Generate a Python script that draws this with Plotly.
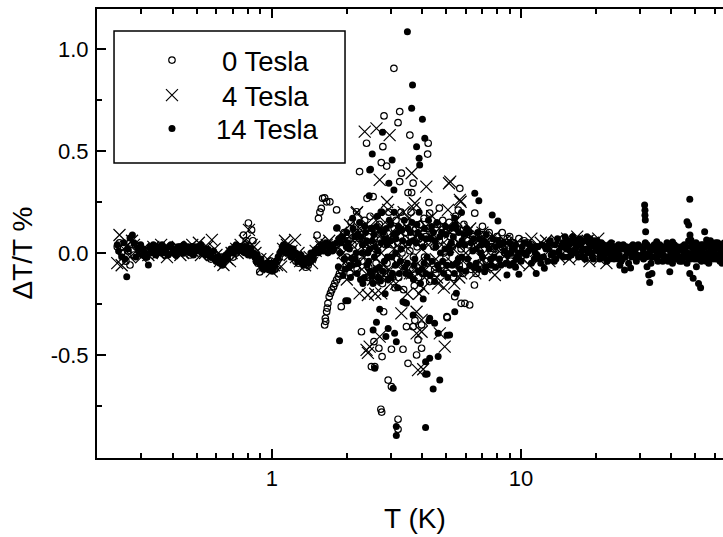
import plotly.graph_objects as go

# ---------------- data: (T [K], dT/T [%]) ----------------
zero_band = [
    (0.24, 0.03), (0.25, 0.0), (0.26, -0.04), (0.27, 0.05), (0.27, -0.059), (0.28, -0.01), (0.29, 0.03),
    (0.30, 0.01), (0.315, -0.02), (0.33, 0.02), (0.345, 0.0), (0.36, 0.03), (0.375, -0.01),
    (0.39, 0.02), (0.41, 0.0), (0.43, 0.03), (0.45, 0.01), (0.47, -0.01), (0.49, 0.02),
    (0.51, 0.0), (0.53, 0.02), (0.555, -0.02), (0.58, 0.0), (0.605, -0.04), (0.63, -0.03),
    (0.66, -0.01), (0.69, 0.01), (0.72, 0.0), (0.75, 0.03), (0.77, 0.088), (0.79, 0.06),
    (0.806, 0.147), (0.83, 0.113), (0.84, 0.06), (0.86, -0.02), (0.88, -0.05), (0.895, -0.093),
    (0.92, -0.07), (0.95, -0.06), (0.99, -0.04), (1.03, -0.08), (1.07, -0.02), (1.12, 0.03),
    (1.17, 0.0), (1.22, -0.02), (1.28, -0.05), (1.34, -0.03), (1.40, -0.06), (1.46, -0.02),
    (1.52, 0.088), (1.55, 0.03),
    (0.245, 0.05), (0.265, 0.01), (0.285, 0.04), (0.31, 0.01), (0.34, 0.03), (0.37, 0.01),
    (0.40, 0.03), (0.44, 0.0), (0.48, 0.03), (0.52, 0.01), (0.57, -0.03), (0.62, -0.02),
    (0.67, 0.0), (0.70, -0.02), (0.74, 0.02), (0.78, 0.04), (0.87, -0.04), (0.91, -0.06),
    (0.97, -0.08), (1.01, -0.06), (1.05, -0.04), (1.10, 0.0), (1.19, 0.02), (1.25, -0.04),
    (1.31, -0.02), (1.37, -0.07), (1.43, -0.04), (1.49, 0.0),
]
zero_arc = [
    (1.54, 0.17), (1.56, 0.2), (1.58, 0.219), (1.60, 0.268), (1.63, 0.27), (1.66, 0.251),
    (1.71, 0.251), (1.82, 0.211), (1.63, -0.353), (1.64, -0.32), (1.645, -0.335), (1.66, -0.288),
    (1.67, -0.27), (1.68, -0.247), (1.70, -0.214), (1.72, -0.197), (1.74, -0.181), (1.77, -0.165),
    (1.79, -0.149), (1.82, -0.132), (1.85, -0.116), (1.87, -0.1), (1.90, -0.083), (1.99, -0.059),
    (2.05, -0.04), (1.90, -0.263),
]
zero_scatter = [
    (3.09, 0.905), (3.26, 0.693), (2.82, 0.672), (3.21, 0.639), (3.58, 0.578), (2.79, 0.521),
    (2.40, 0.538), (4.24, 0.538), (4.22, 0.485), (2.75, 0.443), (2.89, 0.426), (2.25, 0.399),
    (3.31, 0.391), (3.26, 0.35), (3.69, 0.342), (3.52, 0.296), (3.64, 0.296), (5.68, 0.317),
    (2.41, 0.268), (2.55, 0.276), (2.19, 0.202), (4.27, 0.247), (4.30, 0.195),
    (2.69, -0.467), (2.57, -0.435), (2.29, -0.386), (3.02, -0.472), (2.77, -0.508),
    (3.36, -0.472), (3.52, -0.541), (3.99, -0.467), (2.51, -0.557), (2.93, -0.623),
    (3.02, -0.655), (2.74, -0.766), (2.76, -0.78), (3.21, -0.815), (3.69, -0.361),
    (5.95, -0.247), (5.04, -0.312), (2.81, -0.288), (3.47, -0.361), (3.86, -0.426),
    (5.06, -0.317), (5.42, -0.214), (3.75, -0.33), (3.99, -0.353), (3.81, -0.5),
    (2.59, -0.557), (3.21, -0.864), (6.22, -0.255), (5.75, -0.247), (6.5, -0.157),
    (1.95, 0.1), (2.0, -0.02), (2.08, 0.15), (2.12, 0.04), (2.2, -0.08), (2.28, 0.12),
    (2.33, 0.0), (2.42, -0.12), (2.48, 0.18), (2.58, 0.07), (2.62, -0.05), (2.7, 0.14),
    (2.78, -0.15), (2.86, 0.04), (2.95, 0.2), (3.0, -0.1), (3.1, 0.12), (3.18, -0.03),
    (3.28, 0.08), (3.38, -0.18), (3.48, 0.15), (3.58, 0.01), (3.68, -0.08), (3.78, 0.12),
    (3.88, -0.12), (3.98, 0.05), (4.08, 0.17), (4.2, -0.05), (4.4, 0.1), (4.55, -0.1),
    (4.7, 0.06), (4.85, 0.16), (5.0, -0.02), (5.2, 0.08), (5.35, -0.12), (5.55, 0.12),
    (5.75, 0.02), (6.0, 0.1), (6.3, -0.08), (6.52, 0.195), (6.7, 0.04), (7.0, 0.09),
    (7.3, -0.04), (7.6, 0.06), (8.0, 0.08), (8.4, 0.03), (8.8, 0.07), (9.3, 0.05),
    (9.8, 0.07), (10.3, 0.06), (11.0, 0.04), (9.1, -0.04), (10.0, -0.02),
    (2.02, 0.06), (2.15, -0.02), (2.25, 0.07), (2.38, 0.03), (2.45, -0.07), (2.52, 0.12),
    (2.65, 0.0), (2.73, -0.1), (2.82, 0.09), (2.9, -0.05), (3.05, 0.04), (3.15, 0.16),
    (3.23, -0.12), (3.33, 0.0), (3.43, 0.1), (3.53, -0.1), (3.63, 0.08), (3.73, -0.16),
    (3.83, 0.03), (3.93, 0.14), (4.03, -0.1), (4.14, 0.08), (4.3, -0.14), (4.47, 0.03),
    (4.62, 0.14), (4.78, -0.06), (4.95, 0.1), (5.1, -0.1), (5.3, 0.03), (5.45, 0.18),
    (5.65, -0.06), (5.9, 0.14), (6.15, 0.04), (6.4, 0.08), (6.85, -0.05), (7.15, 0.05),
    (7.45, 0.1), (7.8, 0.02), (8.2, 0.06), (8.6, 0.0), (9.0, 0.08), (9.6, 0.02),
    (10.6, 0.05), (11.5, 0.03),
    (1.96, 0.05), (2.06, -0.1), (2.17, 0.1), (2.3, -0.04), (2.36, 0.16), (2.44, 0.08),
    (2.55, -0.14), (2.68, 0.04), (2.75, 0.2), (2.87, -0.1), (2.98, 0.06), (3.12, -0.17),
    (3.2, 0.05), (3.3, 0.2), (3.4, -0.05), (3.5, 0.04), (3.62, 0.2), (3.7, -0.02),
    (3.9, 0.07), (4.1, -0.02), (4.25, 0.12), (4.5, -0.08), (4.7, 0.22), (4.9, 0.0),
    (5.15, 0.15), (5.4, 0.05), (5.6, 0.21), (5.85, -0.1), (6.1, 0.06), (6.6, -0.1),
    (7.0, 0.13), (7.6, -0.07), (8.4, 0.1), (9.2, 0.0),
]

four_band = [
    (0.24, -0.05), (0.245, 0.088), (0.25, -0.06), (0.26, 0.03), (0.27, -0.02), (0.28, 0.04),
    (0.29, 0.0), (0.305, 0.02), (0.32, -0.01), (0.335, 0.03), (0.35, 0.0), (0.365, 0.02),
    (0.38, -0.02), (0.40, 0.01), (0.42, 0.03), (0.44, 0.0), (0.46, 0.02), (0.48, 0.04),
    (0.50, 0.01), (0.52, -0.01), (0.55, 0.03), (0.575, 0.064), (0.60, -0.01), (0.62, -0.04),
    (0.64, -0.059), (0.665, -0.03), (0.69, 0.0), (0.72, 0.02), (0.75, 0.04), (0.78, 0.06),
    (0.81, 0.113), (0.83, 0.04), (0.86, 0.0), (0.90, -0.03), (0.94, -0.05), (0.98, -0.07),
    (1.02, -0.06), (1.05, -0.059), (1.09, -0.067), (1.11, 0.02), (1.15, 0.04), (1.20, 0.01),
    (1.24, 0.064), (1.25, -0.02), (1.30, -0.04), (1.36, -0.06), (1.42, -0.02), (1.50, 0.01),
    (1.58, 0.03), (1.66, 0.04), (1.75, 0.02),
    (0.255, 0.02), (0.275, 0.06), (0.30, -0.02), (0.33, 0.0), (0.36, 0.04), (0.39, 0.0),
    (0.43, -0.01), (0.47, 0.03), (0.51, 0.05), (0.54, 0.0), (0.59, 0.02), (0.63, -0.02),
    (0.68, -0.04), (0.73, 0.0), (0.77, 0.02), (0.85, 0.03), (0.92, -0.07), (0.96, -0.03),
    (1.00, -0.09), (1.13, 0.06), (1.18, -0.01), (1.28, 0.0), (1.34, -0.03), (1.45, -0.05),
    (1.55, 0.05), (1.70, 0.06),
]
four_scatter = [
    (2.36, 0.595), (2.63, 0.611), (2.97, 0.578), (3.64, 0.391), (4.17, 0.325), (5.14, 0.342),
    (5.72, 0.251), (2.71, 0.358), (2.93, 0.211), (3.75, 0.244), (5.09, 0.211), (2.51, -0.108),
    (2.75, -0.198), (2.43, -0.206), (3.31, -0.296), (3.81, -0.288), (3.99, -0.328),
    (3.81, -0.394), (2.47, -0.459), (2.40, -0.475), (4.05, -0.57), (4.94, -0.459),
    (2.59, -0.1), (2.71, -0.41), (3.99, -0.386), (4.72, -0.394), (3.86, -0.574),
    (4.05, -0.173), (5.2, 0.35), (5.68, 0.26), (7.85, -0.108), (2.19, 0.195), (2.06, 0.137),
    (2.29, 0.064), (2.25, -0.198), (2.43, -0.49), (2.59, -0.116), (1.93, 0.0),
    (1.85, 0.03), (1.95, -0.05), (2.05, 0.08), (2.15, -0.1), (2.25, 0.12), (2.35, -0.02),
    (2.45, 0.05), (2.55, -0.13), (2.65, 0.1), (2.75, 0.0), (2.85, 0.15), (2.95, -0.08),
    (3.05, 0.06), (3.15, -0.15), (3.25, 0.11), (3.35, -0.04), (3.45, 0.03), (3.55, 0.17),
    (3.65, -0.1), (3.75, 0.08), (3.9, -0.2), (4.0, 0.02), (4.15, 0.13), (4.3, -0.06),
    (4.45, 0.09), (4.6, -0.12), (4.8, 0.04), (5.0, -0.07), (5.2, 0.1), (5.4, -0.15),
    (5.6, 0.05), (5.85, -0.04), (6.1, 0.08), (6.4, -0.06), (6.7, 0.04), (7.0, -0.03),
    (7.3, 0.06), (7.6, -0.05), (8.0, 0.02), (8.4, 0.05), (8.8, -0.03),
    (1.9, 0.1), (2.0, -0.13), (2.1, 0.04), (2.2, 0.2), (2.3, -0.08), (2.4, 0.14),
    (2.5, 0.02), (2.6, -0.2), (2.7, 0.08), (2.8, -0.06), (2.9, 0.25), (3.0, -0.15),
    (3.1, 0.02), (3.2, 0.18), (3.3, -0.08), (3.4, 0.12), (3.5, -0.2), (3.6, 0.06),
    (3.7, 0.22), (3.85, -0.05), (3.95, 0.1), (4.1, -0.12), (4.25, 0.04), (4.4, 0.18),
    (4.55, -0.03), (4.7, 0.12), (4.9, -0.17), (5.1, 0.03), (5.3, -0.05), (5.5, 0.16),
    (5.75, -0.1), (6.0, 0.0), (6.25, 0.12), (6.55, -0.1), (6.85, 0.07), (7.15, -0.07),
    (7.5, 0.03), (7.8, 0.08), (8.2, -0.04), (8.6, 0.06),
    (1.97, 0.06), (2.08, -0.04), (2.18, 0.08), (2.33, 0.04), (2.48, -0.1), (2.62, 0.16),
    (2.78, -0.12), (2.88, 0.06), (3.02, 0.1), (3.18, -0.05), (3.38, 0.2), (3.58, -0.1),
    (3.8, 0.14), (4.05, -0.08), (4.35, 0.08), (4.65, -0.15), (5.0, 0.12), (5.35, 0.02),
    (5.65, -0.12), (6.05, 0.1), (6.5, 0.02), (7.0, 0.1), (7.7, -0.02), (8.4, 0.02),
    (9.0, 0.04),
]
four_high = [
    (9.2, 0.02), (9.6, 0.05), (10.0, -0.02), (10.5, 0.04), (11.0, 0.07), (11.5, 0.01),
    (12.0, 0.05), (12.6, 0.06), (13.2, 0.02), (13.9, 0.06), (14.6, 0.03), (15.3, 0.07),
    (16.0, 0.05), (16.8, 0.08), (17.6, 0.04), (18.5, 0.06), (19.4, 0.05), (20.4, 0.07),
    (21.4, 0.02), (22.5, 0.03), (23.6, 0.0), (9.8, -0.05), (10.8, -0.06), (11.8, -0.03),
    (13.0, -0.04), (14.2, -0.02), (15.6, -0.03), (17.1, -0.02), (18.8, -0.04), (20.6, -0.03),
    (22.0, -0.05),
]

fourteen_band = [
    (0.24, 0.04), (0.25, -0.018), (0.262, -0.116), (0.27, 0.073), (0.276, 0.088), (0.292, 0.025),
    (0.32, -0.059), (0.295, 0.02), (0.31, 0.0), (0.324, 0.03), (0.339, 0.01), (0.355, 0.02),
    (0.372, 0.0), (0.39, 0.03), (0.408, 0.01), (0.428, 0.02), (0.448, 0.03), (0.469, 0.0),
    (0.491, 0.02), (0.514, 0.03), (0.539, 0.01), (0.564, 0.0), (0.591, -0.03), (0.619, -0.05),
    (0.648, -0.02), (0.678, 0.01), (0.71, 0.03), (0.744, 0.02), (0.779, 0.0), (0.816, 0.01),
    (0.855, -0.02), (0.895, -0.05), (0.937, -0.07), (0.982, -0.08), (1.028, -0.06),
    (1.077, 0.0), (1.127, 0.02), (1.181, 0.01), (1.237, -0.01), (1.295, -0.03), (1.356, -0.05),
    (1.42, -0.02), (1.488, 0.01), (1.558, 0.02), (1.632, 0.03), (1.709, 0.02),
    (0.302, -0.01), (0.331, 0.0), (0.363, 0.04), (0.399, 0.0), (0.438, 0.0), (0.48, 0.03),
    (0.526, 0.0), (0.577, -0.02), (0.633, -0.06), (0.694, 0.0), (0.761, 0.03), (0.835, -0.01),
    (0.916, -0.06), (1.005, -0.09), (1.102, 0.03), (1.209, 0.0), (1.325, -0.05),
    (1.454, -0.01), (1.595, 0.04), (1.75, 0.01),
    (0.243, 0.01), (0.255, 0.05), (0.258, -0.03), (0.265, 0.02), (0.28, 0.05), (0.285, -0.02),
    (0.298, 0.04), (0.306, 0.02), (0.315, -0.02), (0.327, 0.01), (0.335, 0.04), (0.343, -0.01),
    (0.35, 0.03), (0.359, 0.0), (0.367, 0.03), (0.377, 0.02), (0.384, -0.01), (0.394, 0.04),
    (0.403, 0.02), (0.413, -0.01), (0.42, 0.03), (0.433, 0.01), (0.443, 0.04), (0.455, 0.01),
    (0.462, 0.03), (0.474, 0.02), (0.485, -0.01), (0.497, 0.03), (0.505, 0.01), (0.52, 0.04),
    (0.532, 0.02), (0.545, -0.01), (0.552, 0.02), (0.57, -0.02), (0.584, 0.01), (0.598, -0.04),
    (0.61, -0.02), (0.626, -0.03), (0.64, -0.05), (0.655, -0.01), (0.665, -0.03), (0.685, 0.02),
    (0.70, 0.0), (0.72, 0.04), (0.735, 0.01), (0.752, 0.03), (0.77, 0.01), (0.79, 0.03),
    (0.805, -0.01), (0.825, 0.02), (0.845, 0.0), (0.865, -0.04), (0.875, -0.01), (0.905, -0.03),
    (0.925, -0.08), (0.95, -0.05), (0.97, -0.06), (0.995, -0.05), (1.015, -0.08), (1.04, -0.04),
    (1.06, -0.02), (1.09, 0.01), (1.115, 0.04), (1.14, 0.0), (1.165, 0.03), (1.195, -0.02),
    (1.22, 0.02), (1.25, 0.0), (1.27, -0.04), (1.31, -0.01), (1.34, -0.06), (1.37, -0.03),
    (1.40, -0.05), (1.435, 0.0), (1.47, -0.03), (1.51, 0.02), (1.54, 0.0), (1.575, 0.04),
    (1.61, 0.01), (1.65, 0.05), (1.68, 0.0), (1.73, 0.04), (1.78, 0.02), (1.82, 0.05),
]
fourteen_scatter = [
    (3.50, 1.085), (3.67, 0.824), (3.64, 0.709), (4.02, 0.655), (4.11, 0.562), (3.81, 0.521),
    (3.90, 0.464), (3.92, 0.431), (2.78, 0.592), (2.53, 0.485), (3.04, 0.456), (2.49, 0.41),
    (3.09, 0.309), (2.95, 0.342), (1.83, 0.124), (1.87, -0.43), (1.98, -0.234), (2.02, -0.234),
    (1.85, -0.067), (2.73, -0.137), (2.63, -0.34), (2.93, -0.37), (2.87, -0.41), (3.16, -0.435),
    (3.07, -0.663), (3.16, -0.851), (4.14, -0.856), (3.36, -0.239), (3.47, -0.247),
    (3.69, -0.304), (4.14, -0.533), (4.30, -0.516), (4.65, -0.508), (4.72, -0.623),
    (4.44, -0.667), (4.14, -0.595), (4.50, -0.345), (4.65, -0.394), (4.30, -0.32),
    (2.55, -0.377), (3.42, -0.243), (2.71, -0.276), (3.11, -0.394), (4.27, -0.332),
    (5.05, -0.403), (4.05, -0.225), (5.42, -0.288), (4.20, -0.593), (2.59, -0.565),
    (3.16, -0.895), (5.42, 0.17), (5.26, 0.121), (6.52, 0.293), (6.77, 0.256), (7.66, 0.186),
    (8.08, 0.157), (5.77, 0.198), (5.50, -0.198), (5.17, -0.402), (9.8, -0.104),
    (7.14, -0.092), (8.78, -0.108), (1.82, 0.121), (2.46, 0.28), (2.47, 0.407), (2.09, -0.026),
    (1.9, 0.05), (1.95, -0.03), (2.0, 0.1), (2.05, 0.02), (2.1, -0.06), (2.15, 0.08),
    (2.2, -0.1), (2.25, 0.15), (2.3, 0.0), (2.35, -0.12), (2.4, 0.06), (2.45, -0.04),
    (2.5, 0.12), (2.55, -0.15), (2.6, 0.03), (2.65, 0.18), (2.7, -0.07), (2.8, 0.1),
    (2.85, -0.2), (2.9, 0.04), (3.0, 0.14), (3.05, -0.1), (3.15, 0.07), (3.2, -0.17),
    (3.3, 0.02), (3.4, 0.16), (3.5, -0.05), (3.6, 0.1), (3.7, -0.13), (3.8, 0.05),
    (3.9, 0.2), (4.0, -0.08), (4.1, 0.12), (4.2, -0.02), (4.35, 0.07), (4.5, -0.14),
    (4.6, 0.15), (4.75, 0.0), (4.9, -0.1), (5.0, 0.09), (5.15, 0.03), (5.3, -0.06),
    (5.5, 0.12), (5.6, -0.03), (5.8, 0.06), (6.0, -0.09), (6.2, 0.1), (6.4, 0.01),
    (6.6, -0.05), (6.8, 0.07), (7.0, -0.02), (7.3, 0.04), (7.6, -0.06), (7.9, 0.03),
    (8.2, -0.03), (8.5, 0.05), (8.8, -0.01), (9.2, 0.02),
    (1.88, 0.0), (1.92, 0.08), (1.97, -0.08), (2.02, 0.05), (2.07, -0.12), (2.12, 0.12),
    (2.18, 0.0), (2.22, -0.05), (2.28, 0.08), (2.32, -0.15), (2.38, 0.1), (2.43, 0.0),
    (2.48, -0.09), (2.53, 0.06), (2.58, -0.02), (2.63, 0.13), (2.68, -0.12), (2.74, 0.05),
    (2.76, 0.2), (2.83, -0.04), (2.88, 0.12), (2.93, -0.13), (2.98, 0.06), (3.03, -0.02),
    (3.1, 0.2), (3.13, -0.06), (3.18, 0.1), (3.25, -0.1), (3.35, 0.06), (3.45, -0.1),
    (3.55, 0.05), (3.65, 0.15), (3.75, -0.03), (3.85, 0.1), (3.95, -0.15), (4.05, 0.03),
    (4.15, -0.1), (4.25, 0.16), (4.4, -0.04), (4.45, 0.1), (4.55, 0.03), (4.68, -0.08),
    (4.8, 0.1), (4.95, 0.02), (5.05, -0.06), (5.25, 0.05), (5.4, -0.1), (5.45, 0.14),
    (5.65, 0.04), (5.7, -0.08), (5.9, 0.09), (6.1, -0.03), (6.3, 0.05), (6.5, -0.07),
    (6.7, 0.1), (6.9, 0.0), (7.1, 0.06), (7.2, -0.07), (7.45, 0.02), (7.7, 0.07),
    (7.8, -0.02), (8.1, 0.06), (8.3, -0.06), (8.6, 0.01), (9.0, 0.05), (9.0, -0.06),
    (1.86, 0.07), (1.93, -0.11), (1.99, 0.03), (2.04, -0.07), (2.11, 0.17), (2.16, -0.03),
    (2.21, 0.09), (2.27, -0.13), (2.31, 0.04), (2.36, 0.13), (2.41, -0.06), (2.47, 0.02),
    (2.52, -0.11), (2.57, 0.09), (2.61, -0.08), (2.67, 0.01), (2.72, 0.11), (2.79, -0.09),
    (2.84, 0.07), (2.91, -0.02), (2.96, 0.16), (3.02, -0.12), (3.08, 0.09), (3.14, 0.0),
    (3.22, 0.13), (3.28, -0.04), (3.32, 0.11), (3.42, -0.07), (3.52, 0.12), (3.58, -0.11),
    (3.68, 0.06), (3.72, -0.06), (3.82, 0.14), (3.88, -0.09), (3.98, 0.08), (4.08, -0.05),
    (4.18, 0.07), (4.32, -0.11), (4.38, 0.13), (4.52, 0.06), (4.62, -0.06), (4.72, 0.08),
    (4.85, -0.04), (4.98, 0.13), (5.08, -0.12), (5.2, 0.0), (5.35, 0.08), (5.52, -0.05),
    (5.62, 0.1), (5.78, -0.02), (5.95, 0.04), (6.05, 0.12), (6.22, -0.06), (6.45, 0.07),
    (6.62, 0.02), (6.75, -0.08), (6.95, 0.04), (7.25, 0.09), (7.55, -0.03), (7.9, -0.07),
    (8.3, 0.04), (8.7, -0.05), (9.1, 0.0), (9.5, -0.07),
]
fourteen_high = [
    (9.5, 0.04), (10.3, 0.05), (11.2, 0.03), (12.1, 0.04), (13.0, 0.05), (14.0, 0.07),
    (15.0, 0.08), (16.1, 0.08), (17.2, 0.07), (18.4, 0.08), (19.7, 0.06), (21.0, 0.05),
    (22.5, 0.04), (24.0, 0.03), (25.7, 0.04), (27.5, 0.03), (29.5, 0.04), (31.5, 0.05),
    (33.7, 0.03), (36.0, 0.04), (38.5, 0.05), (41.2, 0.04), (44.0, 0.03), (47.0, 0.06),
    (50.3, 0.05), (53.7, 0.04), (57.5, 0.06), (61.5, 0.05), (65.7, 0.03),
    (9.8, 0.0), (10.7, 0.01), (11.6, -0.01), (12.6, 0.02), (13.5, 0.0), (14.5, 0.03),
    (15.6, 0.04), (16.7, 0.03), (17.8, 0.02), (19.0, 0.03), (20.3, 0.01), (21.8, 0.0),
    (23.2, 0.01), (24.8, -0.01), (26.6, 0.0), (28.5, 0.01), (30.5, -0.01), (32.6, 0.0),
    (34.8, 0.01), (37.2, -0.01), (39.8, 0.0), (42.6, 0.01), (45.5, -0.02), (48.6, 0.0),
    (52.0, 0.01), (55.6, -0.01), (59.5, 0.02), (63.6, -0.02), (67.5, 0.0),
    (9.3, -0.05), (10.0, -0.04), (11.0, -0.05), (11.9, -0.03), (12.8, -0.04), (13.8, -0.03),
    (14.8, -0.02), (15.9, -0.01), (17.0, -0.02), (18.1, -0.03), (19.3, -0.02), (20.7, -0.03),
    (22.1, -0.04), (23.6, -0.03), (25.2, -0.04), (27.0, -0.05), (29.0, -0.04), (31.0, -0.03),
    (33.2, -0.05), (35.4, -0.04), (37.9, -0.03), (40.5, -0.05), (43.3, -0.04), (46.3, -0.05),
    (49.5, -0.03), (52.9, -0.04), (56.6, -0.05), (60.5, -0.03), (64.7, -0.04),
    (9.4, 0.02), (9.65, -0.02), (10.1, 0.03), (10.5, -0.01), (10.9, 0.02), (11.3, -0.03),
    (11.7, 0.03), (12.3, -0.02), (12.9, 0.02), (13.2, -0.01), (13.7, 0.04), (14.2, 0.01),
    (14.7, 0.05), (15.2, 0.02), (15.4, 0.06), (15.8, 0.01), (16.3, 0.06), (16.5, 0.02),
    (17.0, 0.05), (17.5, 0.01), (17.9, 0.06), (18.3, 0.02), (18.7, 0.05), (19.2, 0.0),
    (19.6, 0.04), (20.0, 0.02), (20.5, 0.04), (21.2, 0.02), (21.6, -0.02), (22.2, 0.02),
    (22.9, -0.01), (23.4, 0.03), (24.3, 0.01), (24.5, -0.03), (25.4, 0.02), (26.2, -0.02),
    (26.9, 0.02), (27.8, -0.02), (28.8, 0.02), (29.8, -0.02), (30.8, 0.02), (31.8, -0.02),
    (32.3, 0.03), (33.0, 0.01), (34.0, -0.02), (34.5, 0.02), (35.8, -0.01), (36.5, 0.02),
    (37.5, 0.03), (38.2, -0.02), (39.2, 0.02), (40.0, -0.03), (41.0, 0.02), (41.8, -0.01),
    (42.2, 0.03), (43.8, -0.02), (44.6, 0.02), (45.0, 0.0), (46.0, 0.03), (46.8, -0.02),
    (48.2, 0.03), (49.0, -0.01), (49.8, 0.02), (50.8, -0.03), (51.2, 0.03), (52.4, -0.01),
    (53.3, 0.02), (54.0, -0.03), (55.0, 0.03), (56.0, 0.0), (57.0, -0.02), (58.0, 0.04),
    (58.8, -0.03), (60.0, 0.02), (61.0, -0.01), (62.2, 0.03), (62.8, -0.04), (63.5, 0.01),
    (64.3, 0.04), (65.0, -0.02), (66.0, 0.02), (66.8, -0.03), (68.0, 0.03),
    (9.55, -0.03), (10.2, 0.0), (10.8, 0.04), (11.4, 0.0), (12.0, -0.05), (12.5, 0.03),
    (13.1, 0.06), (13.6, -0.04), (14.3, -0.01), (14.9, 0.03), (15.5, -0.02), (16.0, 0.05),
    (16.6, 0.0), (17.3, 0.04), (17.7, -0.02), (18.5, 0.0), (18.9, 0.07), (19.5, -0.03),
    (20.2, 0.06), (20.8, -0.01), (21.4, 0.04), (22.0, 0.0), (22.7, -0.03), (23.0, 0.05),
    (23.8, -0.01), (24.6, 0.04), (25.5, -0.03), (26.4, 0.03), (27.2, 0.0), (28.1, 0.04),
    (29.2, -0.01), (30.1, 0.03), (31.1, 0.0), (32.0, 0.04), (33.4, -0.02), (34.2, 0.04),
    (35.2, -0.03), (36.2, 0.0), (37.0, -0.04), (38.0, 0.02), (38.9, -0.04), (39.6, 0.04),
    (40.7, 0.0), (42.0, -0.03), (43.0, 0.02), (44.2, -0.04), (45.2, 0.04), (46.6, 0.0),
    (47.8, -0.03), (48.9, 0.04), (50.0, -0.01), (51.8, 0.0), (52.7, 0.04), (53.9, 0.0),
    (55.3, -0.04), (56.3, 0.04), (57.7, 0.0), (59.0, -0.01), (60.3, 0.05), (61.8, -0.03),
    (63.0, 0.0), (64.0, -0.05), (65.3, 0.05), (66.5, 0.0), (67.8, -0.04),
    (11.5, -0.10), (12.4, -0.075), (26.0, -0.083), (31.3, 0.235), (31.4, 0.21), (31.4, 0.185),
    (31.5, 0.162), (31.6, 0.104), (32.0, -0.067), (32.5, -0.108), (32.8, -0.145), (33.5, -0.1),
    (35.0, 0.055), (39.5, -0.092), (40.5, 0.054), (46.3, 0.153), (47.0, 0.137), (47.5, 0.263),
    (47.6, 0.088), (48.0, 0.064), (47.5, -0.1), (49.0, -0.124), (51.5, -0.149), (52.5, -0.17),
    (50.5, -0.067), (54.5, 0.104), (55.5, 0.064), (57.0, 0.03), (24.9, -0.06), (27.5, -0.074),
]

series_names = ["0 Tesla", "4 Tesla", "14 Tesla"]
x_tick_vals = [1, 10]
x_tick_text = ["1", "10"]
y_tick_vals = [-0.5, 0.0, 0.5, 1.0]
y_tick_text = ["-0.5", "0.0", "0.5", "1.0"]

FONT = "Liberation Sans, Arial, sans-serif"


def split(*groups):
    pts = [p for g in groups for p in g]
    return [p[0] for p in pts], [p[1] for p in pts]


t0, d0 = split(zero_band, zero_arc, zero_scatter)
t4, d4 = split(four_band, four_scatter, four_high)
t14, d14 = split(fourteen_band, fourteen_scatter, fourteen_high)

fig = go.Figure()
fig.add_trace(go.Scatter(
    x=t0, y=d0, mode="markers", name=series_names[0], legend="legend",
    marker=dict(symbol="circle-open", size=6.5, color="black", line=dict(width=1.2, color="black")),
))
fig.add_trace(go.Scatter(
    x=t4, y=d4, mode="markers", name=series_names[1], legend="legend2",
    marker=dict(symbol="x-thin-open", size=12, color="black", line=dict(width=1.2, color="black")),
))
fig.add_trace(go.Scatter(
    x=t14, y=d14, mode="markers", name=series_names[2], legend="legend3",
    marker=dict(symbol="circle", size=7, color="black", line=dict(width=0)),
))

minor_x = [0.2, 0.3, 0.4, 0.5, 0.6, 0.7, 0.8, 0.9, 2, 3, 4, 5, 6, 7, 8, 9, 20, 30, 40, 50, 60]


def leg(x, y, iw):
    return dict(x=x, y=y, xanchor="left", yanchor="middle", bgcolor="rgba(0,0,0,0)",
                borderwidth=0, font=dict(size=27.5, family=FONT), itemwidth=iw)


fig.update_layout(
    width=723, height=537,
    margin=dict(l=97, r=0, t=9, b=79),
    paper_bgcolor="white", plot_bgcolor="white",
    font=dict(family=FONT, color="black", size=22),
    showlegend=True,
    legend=leg(0.0399, 0.886, 90),
    legend2=leg(0.0399, 0.808, 90),
    legend3=leg(0.0495, 0.7335, 78),
    xaxis=dict(
        type="log", range=[-0.701, 1.81],
        showline=True, linecolor="black", linewidth=2, mirror="allticks",
        ticks="inside", ticklen=9, tickwidth=1.5, tickcolor="black",
        tickmode="array", tickvals=x_tick_vals, ticktext=x_tick_text,
        minor=dict(tickmode="array", tickvals=minor_x, ticks="inside", ticklen=5,
                   tickwidth=1.5, tickcolor="black", showgrid=False),
        showgrid=False, zeroline=False, ticklabelstandoff=0,
        tickfont=dict(size=22, family=FONT),
    ),
    yaxis=dict(
        range=[-1.005, 1.196],
        showline=True, linecolor="black", linewidth=2, mirror=False,
        ticks="inside", ticklen=9, tickwidth=1.5, tickcolor="black",
        tickmode="array", tickvals=y_tick_vals, ticktext=y_tick_text,
        minor=dict(tickmode="array", tickvals=[-0.75, -0.25, 0.25, 0.75], ticks="inside",
                   ticklen=5, tickwidth=1.5, tickcolor="black", showgrid=False),
        showgrid=False, zeroline=False, ticklabelstandoff=2,
        tickfont=dict(size=22, family=FONT),
    ),
    shapes=[dict(type="rect", xref="paper", yref="paper",
                 x0=0.0272, x1=0.3962, y0=0.657, y1=0.951,
                 line=dict(color="black", width=1.5), fillcolor="rgba(0,0,0,0)")],
    annotations=[
        dict(text="T (K)", xref="paper", yref="paper", x=0.508, y=-0.134,
             xanchor="center", yanchor="middle", showarrow=False,
             font=dict(size=28, family=FONT)),
        dict(text="ΔT/T %", xref="paper", yref="y", x=-0.119, y=0.0,
             xanchor="center", yanchor="middle", showarrow=False, textangle=-90,
             font=dict(size=28, family=FONT)),
    ],
)

fig.write_html("out.html")
